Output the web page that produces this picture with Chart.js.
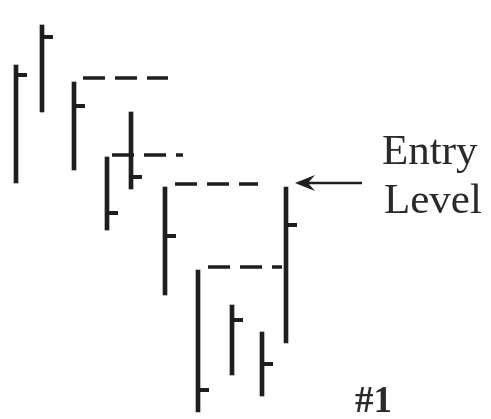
<!DOCTYPE html>
<html>
<head>
<meta charset="utf-8">
<script src="https://cdn.jsdelivr.net/npm/chart.js@4/dist/chart.umd.min.js"></script>
<style>
html,body{margin:0;padding:0;background:#fff;}
#wrap{width:491px;height:419px;}
</style>
</head>
<body>
<div id="wrap"><canvas id="c" width="491" height="419"></canvas></div>
<script>
// Bar positions (time axis) and prices
const barX   = [16, 42, 74, 107, 131, 165, 198, 232, 262, 286];
const highs  = [354, 394, 337, 262, 307, 232, 149, 114, 87, 232];
const lows   = [236, 307, 249, 189, 230, 124, 7, 44, 23, 76];
const closes = [344, 382, 313, 206, 242, 183, 29, 99, 55, 194];

// Dashed reference levels: [level, fromX, toX]
const levels     = [341, 264, 235, 152];
const levelFrom  = [83, 112, 175, 208];
const levelTo    = [168, 183, 258, 282];

// Entry arrow
const entryLevel = 236;
const arrowFrom = 295, arrowTo = 362;

const labels = { entry: ["Entry", "Level"], tag: "#1" };

const INK = '#1e1e1e';

// close tick: extends to the right of the bar
const tick = document.createElement('canvas');
tick.width = 24; tick.height = 4;
(function(){const g = tick.getContext('2d'); g.fillStyle = INK; g.fillRect(12, 0, 11, 4);})();

// arrow head, tip at center
const head = document.createElement('canvas');
head.width = 44; head.height = 20;
(function(){
  const g = head.getContext('2d'); g.fillStyle = INK;
  g.beginPath(); g.moveTo(22, 10); g.lineTo(42, 2); g.lineTo(35, 10); g.lineTo(42, 18); g.closePath(); g.fill();
})();

const datasets = [];
datasets.push({
  type: 'bar',
  data: barX.map((x, i) => ({x: x, y: [lows[i], highs[i]]})),
  backgroundColor: INK, barThickness: 4, grouped: false, borderWidth: 0
});
datasets.push({
  type: 'scatter',
  data: barX.map((x, i) => ({x: x, y: closes[i]})),
  pointStyle: tick, pointRadius: 6, showLine: false
});
levels.forEach((lv, i) => {
  datasets.push({
    type: 'line',
    data: [{x: levelFrom[i], y: lv}, {x: levelTo[i], y: lv}],
    borderColor: INK, borderWidth: 3.5, borderDash: [22, 10],
    pointRadius: 0, fill: false
  });
});
datasets.push({
  type: 'line',
  data: [{x: arrowFrom + 12, y: entryLevel}, {x: arrowTo, y: entryLevel}],
  borderColor: INK, borderWidth: 2.5, pointRadius: 0, fill: false
});
datasets.push({
  type: 'scatter',
  data: [{x: arrowFrom, y: entryLevel}],
  pointStyle: head, pointRadius: 10
});

const textPlugin = {
  id: 'texts',
  afterDraw(chart) {
    const ctx = chart.ctx;
    ctx.save();
    ctx.fillStyle = '#2a2a2a';
    ctx.textBaseline = 'alphabetic';
    ctx.font = "43px 'Liberation Serif'";
    ctx.fillText(labels.entry[0], 382, 164);
    ctx.fillText(labels.entry[1], 384, 213);
    ctx.font = "bold 37px 'Liberation Serif'";
    ctx.fillText(labels.tag, 355, 412);
    ctx.restore();
  }
};

new Chart(document.getElementById('c'), {
  data: { datasets },
  options: {
    responsive: false, animation: false,
    layout: { padding: 0, autoPadding: false },
    plugins: { legend: { display: false }, tooltip: { enabled: false }, title: { display: false } },
    scales: {
      x: { type: 'linear', min: 0, max: 491, display: false, offset: false },
      y: { type: 'linear', min: 0, max: 419, display: false }
    }
  },
  plugins: [textPlugin]
});
</script>
</body>
</html>
